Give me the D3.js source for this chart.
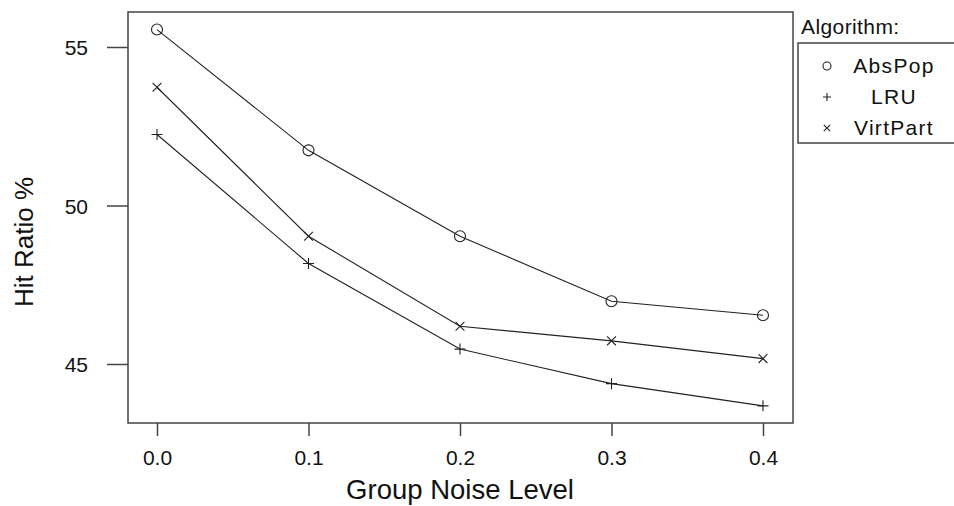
<!DOCTYPE html>
<html>
<head>
<meta charset="utf-8">
<script src="https://cdn.jsdelivr.net/npm/d3@7"></script>
<style>
  body { margin: 0; background: #fff; }
  svg { display: block; font-family: "Liberation Sans", Arial, sans-serif; }
</style>
</head>
<body>
<div id="chart"></div>
<script>
// Data
const noiseLevels = [0.0, 0.1, 0.2, 0.3, 0.4];
const absPop   = [55.55, 51.74, 49.03, 46.98, 46.54];
const lru      = [52.24, 48.17, 45.47, 44.38, 43.68];
const virtPart = [53.73, 49.03, 46.19, 45.73, 45.17];
const xTicks = [0.0, 0.1, 0.2, 0.3, 0.4];
const yTicks = [45, 50, 55];
const seriesNames = ["AbsPop", "LRU", "VirtPart"];

function drawHitRatioPlot(containerId) {
  const W = 954, H = 506;
  const box = { left: 128, top: 12, right: 793, bottom: 423 };

  d3.select(`#${containerId}`).html("");
  const svg = d3.select(`#${containerId}`)
      .append("svg")
          .attr("width", W)
          .attr("height", H);

  const x = d3.scaleLinear().domain([0, 0.4]).range([157, 763]);
  const y = d3.scaleLinear().domain([45, 55]).range([364, 47]);

  const axisColor = "#444";
  const textColor = "#111";

  // plot frame
  svg.append("rect")
      .attr("x", box.left).attr("y", box.top)
      .attr("width", box.right - box.left)
      .attr("height", box.bottom - box.top)
      .attr("fill", "none")
      .attr("stroke", axisColor)
      .attr("stroke-width", 1.5);

  // axes, R style: ticks outside, no domain line
  const xAxis = svg.append("g")
      .attr("transform", `translate(0,${box.bottom})`)
      .call(d3.axisBottom(x).tickValues(xTicks).tickFormat(d3.format(".1f"))
          .tickSize(13).tickPadding(14));
  xAxis.select(".domain").remove();

  const yAxis = svg.append("g")
      .attr("transform", `translate(${box.left},0)`)
      .call(d3.axisLeft(y).tickValues(yTicks).tickFormat(d3.format("d"))
          .tickSize(21).tickPadding(19));
  yAxis.select(".domain").remove();

  [xAxis, yAxis].forEach(a => {
    a.selectAll(".tick line").attr("stroke", axisColor).attr("stroke-width", 1.5);
    a.selectAll(".tick text")
        .attr("fill", textColor)
        .style("font-size", "21px")
        .style("font-family", "'Liberation Sans', Arial, sans-serif");
  });
  yAxis.selectAll(".tick text").attr("dy", "0.36em");

  // Axis titles
  svg.append("text")
      .attr("x", 460)
      .attr("y", 499)
      .attr("text-anchor", "middle")
      .style("font-size", "27.5px")
      .attr("fill", textColor)
      .text("Group Noise Level");

  svg.append("text")
      .attr("transform", "rotate(-90)")
      .attr("x", -242)
      .attr("y", 33)
      .attr("text-anchor", "middle")
      .style("font-size", "26px")
      .attr("fill", textColor)
      .text("Hit Ratio %");

  // Series
  const series = [
    { name: seriesNames[0], values: absPop, shape: "circle" },
    { name: seriesNames[1], values: lru, shape: "plus" },
    { name: seriesNames[2], values: virtPart, shape: "cross" }
  ];

  const line = d3.line()
      .x((d, i) => x(noiseLevels[i]))
      .y(d => y(d));

  const lineColor = "#222";

  function drawMarker(g, shape, cx, cy, s) {
    if (shape === "circle") {
      g.append("circle")
          .attr("cx", cx).attr("cy", cy).attr("r", s)
          .attr("fill", "none")
          .attr("stroke", lineColor)
          .attr("stroke-width", 1.1);
    } else if (shape === "plus") {
      g.append("path")
          .attr("d", `M${cx - s},${cy}H${cx + s}M${cx},${cy - s}V${cy + s}`)
          .attr("stroke", lineColor)
          .attr("stroke-width", 1.1);
    } else {
      const k = s * 0.8;
      g.append("path")
          .attr("d", `M${cx - k},${cy - k}L${cx + k},${cy + k}M${cx - k},${cy + k}L${cx + k},${cy - k}`)
          .attr("stroke", lineColor)
          .attr("stroke-width", 1.1);
    }
  }

  series.forEach(s => {
    svg.append("path")
        .datum(s.values)
        .attr("fill", "none")
        .attr("stroke", lineColor)
        .attr("stroke-width", 1.1)
        .attr("d", line);

    const g = svg.append("g");
    s.values.forEach((v, i) => drawMarker(g, s.shape, x(noiseLevels[i]), y(v), 5.5));
  });

  // Legend
  svg.append("text")
      .attr("x", 801)
      .attr("y", 34)
      .style("font-size", "21px")
      .style("letter-spacing", "0.4px")
      .attr("fill", textColor)
      .text("Algorithm:");

  svg.append("rect")
      .attr("x", 798).attr("y", 43)
      .attr("width", 170).attr("height", 100)
      .attr("fill", "none")
      .attr("stroke", axisColor)
      .attr("stroke-width", 1.5);

  series.forEach((s, i) => {
    const cy = 65 + i * 31;
    const g = svg.append("g");
    drawMarker(g, s.shape, 827, cy + 1, 4);
    svg.append("text")
        .attr("x", 894)
        .attr("y", cy)
        .attr("dy", "0.36em")
        .attr("text-anchor", "middle")
        .style("font-size", "21px")
        .style("letter-spacing", "1.3px")
        .attr("fill", textColor)
        .text(s.name);
  });
}

document.addEventListener("DOMContentLoaded", function () {
  drawHitRatioPlot("chart");
});
</script>
</body>
</html>
